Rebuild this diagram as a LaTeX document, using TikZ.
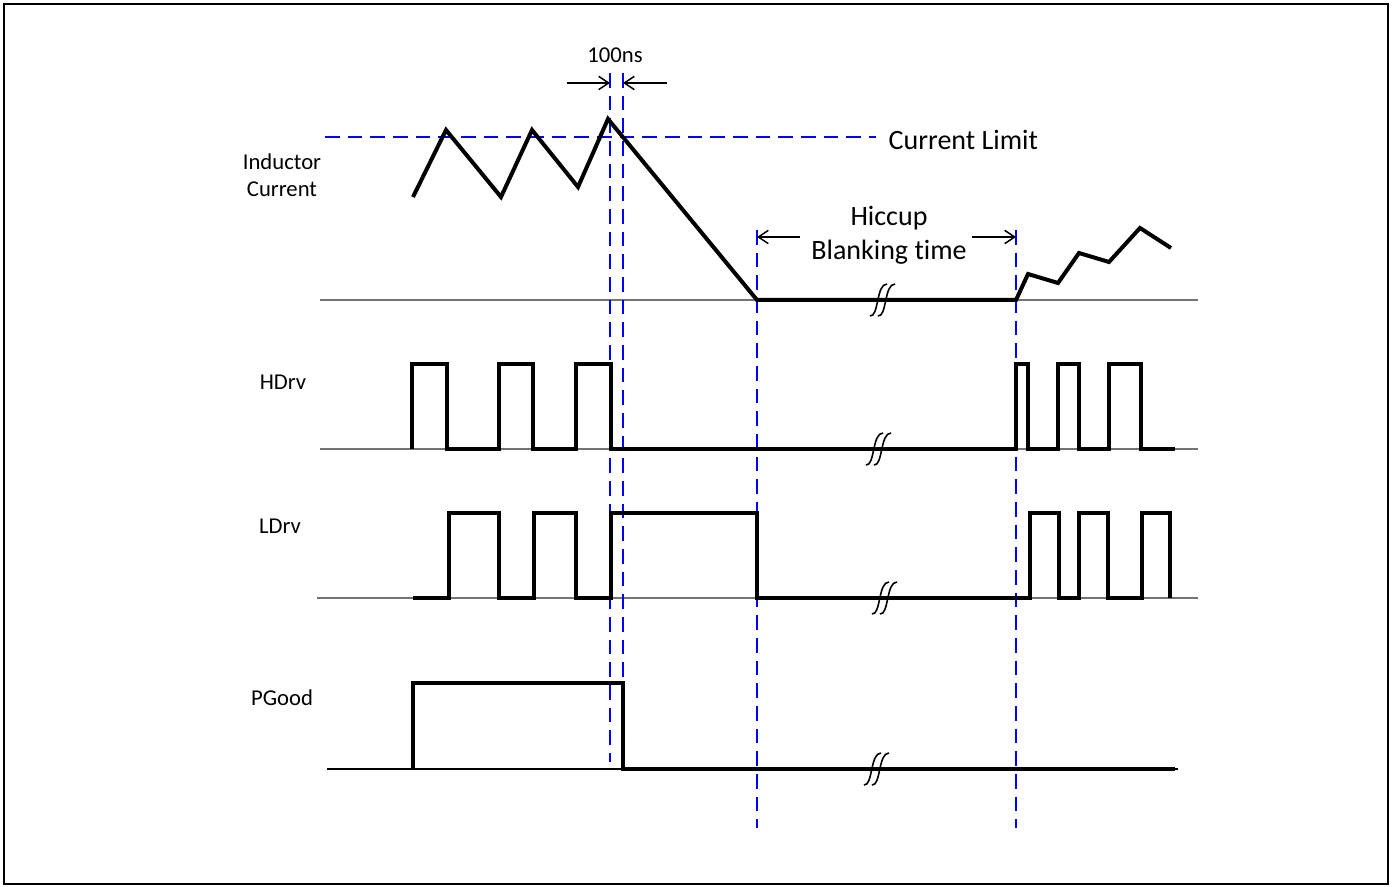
\documentclass[tikz,border=0pt]{standalone}
\usepackage{fontspec}
\setmainfont{Carlito}[Ligatures = NoCommon]
\usetikzlibrary{arrows.meta}

\tikzset{
	timingpicture/.style = {
		x = 0.75pt,
		y = -0.75pt,
		arrow/.style = {
			draw,
			line width = 1.1pt,
			-{Straight Barb[length = 7.5pt, width = 10pt]},
		}
	},
	wave/.style = {
		draw = black,
		line width = 3pt,
		line join = miter
	},
	axis/.style = {
		draw = black!55,
		line width = 1.1pt
	},
	marker/.style = {
		draw = blue,
		line width = 1.4pt,
		dash pattern = on 11pt off 6pt
	},
	brk/.style = {
		draw = black,
		line width = 1.2pt
	},
	label/.style = {
		font = \fontsize{17}{20.5}\selectfont,
		align = center
	},
	biglabel/.style = {
		font = \fontsize{21}{25.5}\selectfont,
		align = center
	}
}

\begin{document}
\begin{tikzpicture}[timingpicture]
	\useasboundingbox (0,0) rectangle (1392,887);
	\draw[line width = 1.1pt] (4,4) rectangle (1388,884);

	% signal names
	\node[label] (ic) at (282,175) {Inductor\\Current};
	\node[label] (hdrv) at (283,382) {HDrv};
	\node[label] (ldrv) at (280,526) {LDrv};
	\node[label] (pgood) at (282,698) {PGood};

	% zero lines
	\path[axis] (320,300) -- (1198,300);
	\path[axis] (320,449) -- (1198,449);
	\path[axis] (317,598) -- (1198,598);
	\path[axis, draw = black] (327,769) -- (1178,769);

	% marker lines
	\coordinate (m1-top) at (610,73);
	\coordinate (m1-bot) at (610,762);
	\coordinate (m2-top) at (623,73);
	\coordinate (m2-bot) at (623,769);
	\coordinate (m3-top) at (757,230);
	\coordinate (m3-bot) at (757,828);
	\coordinate (m4-top) at (1016,230);
	\coordinate (m4-bot) at (1016,828);
	\coordinate (lim-a) at (325,137);
	\coordinate (lim-b) at (876,137);
	\path[marker] (m1-top) -- (m1-bot);
	\path[marker] (m2-top) -- (m2-bot);
	\path[marker] (m3-top) -- (m3-bot);
	\path[marker] (m4-top) -- (m4-bot);
	\path[marker] (lim-a) -- (lim-b);
	\node[biglabel, anchor = west] (limit) at (884,140) {Current Limit};

	% waveforms
	\path[wave] (413,197) -- (446,130) -- (501,197) -- (532,130) -- (578,187) -- (608,119)
		-- (757,300) -- (1016,300) -- (1028,274) -- (1058,283) -- (1079,253) -- (1109,262)
		-- (1140,228) -- (1171,248);
	\path[wave] (412,449) -- (412,364) -- (447,364) -- (447,449) -- (499,449) -- (499,364)
		-- (533,364) -- (533,449) -- (576,449) -- (576,364) -- (611,364) -- (611,449)
		-- (1016,449) -- (1016,364) -- (1028,364) -- (1028,449) -- (1058,449) -- (1058,364)
		-- (1079,364) -- (1079,449) -- (1109,449) -- (1109,364) -- (1141,364) -- (1141,449)
		-- (1175,449);
	\path[wave] (413,598) -- (449,598) -- (449,513) -- (499,513) -- (499,598) -- (534,598)
		-- (534,513) -- (576,513) -- (576,598) -- (611,598) -- (611,513) -- (757,513)
		-- (757,598) -- (1030,598) -- (1030,513) -- (1059,513) -- (1059,598) -- (1079,598)
		-- (1079,513) -- (1108,513) -- (1108,598) -- (1142,598) -- (1142,513) -- (1170,513)
		-- (1170,598);
	\path[wave] (413,769) -- (413,683) -- (623,683) -- (623,769) -- (1175,769);

	% time breaks
	\foreach \bx/\by in {884/300, 880/449, 886/598, 878/769} {
		\path[brk] (\bx-14,\by+16) .. controls (\bx-5,\by+17) and (\bx-8,\by-16) .. (\bx+3,\by-16);
		\path[brk] (\bx-6,\by+16) .. controls (\bx+3,\by+17) and (\bx,\by-16) .. (\bx+11,\by-16);
	}

	% timing annotations
	\coordinate (ns-l) at (567,83);
	\coordinate (ns-r) at (667,83);
	\coordinate (hic-l) at (800,237);
	\coordinate (hic-r) at (972,237);
	\node[label] (ns) at (615,55) {100ns};
	\node[biglabel] (hiccup) at (889,235) {Hiccup\\Blanking time};

	\begin{scope}[every path/.style = arrow]
		\path (ns-l) -- (ns-l -| m1-top);
		\path (ns-r) -- (ns-r -| m2-top);
		\path (hic-l) -- (hic-l -| m3-top);
		\path (hic-r) -- (hic-r -| m4-top);
	\end{scope}
\end{tikzpicture}
\end{document}
